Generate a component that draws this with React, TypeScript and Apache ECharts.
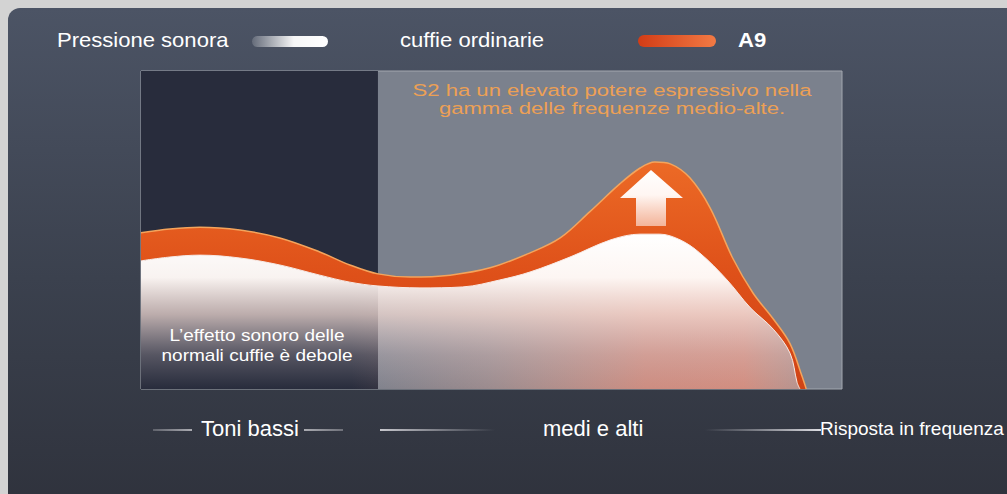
import React, { useEffect, useRef } from "react";
import * as echarts from "echarts";

// Frequency position (0 = bass end, 100 = right edge of plot) and level (0-100)
const a9X = [0, 4.1, 8.4, 14.1, 19.8, 25.5, 29.8, 33.8, 38.4, 44.1, 49.8, 55.5, 59.8, 64.0, 68.3, 71.2, 73.3, 75.5, 78.3, 81.2, 84.4, 87.3, 90.2, 92.6, 94.3, 94.9];
const a9Y = [49.1, 50.3, 50.9, 50.0, 47.5, 43.1, 39.0, 36.2, 35.2, 35.8, 38.1, 42.8, 47.5, 55.7, 64.5, 69.5, 71.4, 70.8, 66.4, 56.9, 41.2, 30.2, 22.0, 14.2, 4.0, 0];
const ordX = [0, 4.1, 8.4, 14.1, 19.8, 25.5, 29.8, 33.8, 39.8, 45.9, 51.2, 55.5, 61.2, 67.0, 71.2, 74.0, 76.9, 79.7, 83.6, 86.9, 90.2, 92.6, 93.6, 94.0];
const ordY = [40.3, 41.5, 42.1, 41.2, 39.0, 35.8, 33.6, 32.4, 31.8, 32.1, 34.3, 36.8, 41.5, 46.9, 48.7, 48.7, 46.9, 42.8, 34.3, 25.6, 18.8, 11.2, 2.0, 0];
const bassRange = [0, 33.8];

const legendLabels = ["Pressione sonora", "cuffie ordinarie", "A9"];
const bottomLabels = ["Toni bassi", "medi e alti", "Risposta in frequenza"];
const noteTop = "S2 ha un elevato potere espressivo nella\ngamma delle frequenze medio-alte.";
const noteBottom = "L\u2019effetto sonoro delle\nnormali cuffie è debole";

const FONT = "'Liberation Sans', Arial, sans-serif";
const DARK = "#282c3c";
const GREY = "#7b818d";

export default function App() {
  const ref = useRef<HTMLDivElement>(null);
  useEffect(() => {
    if (!ref.current) return;
    const chart = echarts.init(ref.current, null, { renderer: "svg" });
    const lg = (stops: [number, string][], x2 = 0, y2 = 1) =>
      new echarts.graphic.LinearGradient(0, 0, x2, y2, stops.map(([offset, color]) => ({ offset, color })));
    // horizontal gradient across the plot width (global pixel coordinates)
    const plotH = (stops: [number, string][]) =>
      new echarts.graphic.LinearGradient(141, 0, 842, 0, stops.map(([offset, color]) => ({ offset, color })), true);

    const hLine = (x1: number, x2: number, stops: [number, string][]) => ({
      type: "rect",
      shape: { x: x1, y: 429, width: x2 - x1, height: 2 },
      style: { fill: lg(stops, 1, 0) },
      z: 50,
    });
    const txt = (left: number, top: number, text: string, font: string, sx = 1) => ({
      type: "text",
      x: left,
      y: top,
      scaleX: sx,
      style: { text, fill: "#ffffff", font },
      z: 50,
    });

    const split = bassRange[1] / 100;
    const maskFill = plotH([
      [0, DARK],
      [split, DARK],
      [split, GREY],
      [1, GREY],
    ]);
    const glowFill = plotH([
      [0, "rgba(230,150,130,0)"],
      [0.3, "rgba(230,150,130,0)"],
      [0.5, "rgba(235,165,145,0.3)"],
      [0.72, "rgba(232,145,125,0.75)"],
      [0.86, "rgba(232,145,125,0.8)"],
      [0.95, "rgba(235,165,145,0.5)"],
    ]);

    const ordData = ordX.map((x, i) => [x, ordY[i]]);
    const shapeSeries = (name: string, z: number, fill: any) => ({
      type: "line",
      name,
      data: ordData,
      smooth: 0.35,
      symbol: "none",
      silent: true,
      z,
      lineStyle: { width: 0 },
      areaStyle: { origin: "start", opacity: 1, color: fill },
    });

    chart.setOption({
      animation: false,
      backgroundColor: "#d3d3d3",
      grid: {
        left: 141,
        top: 71,
        width: 701,
        height: 318,
        show: true,
        backgroundColor: GREY,
        borderColor: "#a3a7af",
        borderWidth: 1,
        z: 1,
      },
      xAxis: { type: "value", min: 0, max: 100, show: false },
      yAxis: { type: "value", min: 0, max: 100, show: false },
      series: [
        {
          type: "line",
          name: legendLabels[2],
          data: a9X.map((x, i) => [x, a9Y[i]]),
          smooth: 0.35,
          symbol: "none",
          z: 3,
          lineStyle: { color: "#f4a45c", width: 1.5 },
          areaStyle: {
            origin: "start",
            opacity: 1,
            color: lg([
              [0, "#ec6a26"],
              [0.5, "#de5019"],
              [1, "#d04416"],
            ]),
          },
          markArea: {
            silent: true,
            itemStyle: { color: DARK, opacity: 1 },
            data: [[{ xAxis: bassRange[0] }, { xAxis: bassRange[1] }]],
          },
        },
        shapeSeries("mask", 4, maskFill),
        shapeSeries("glow", 5, glowFill),
        {
          type: "line",
          name: legendLabels[1],
          data: ordData,
          smooth: 0.35,
          symbol: "none",
          z: 6,
          lineStyle: { color: "#fbe9e2", width: 1 },
          areaStyle: {
            origin: "start",
            opacity: 1,
            color: lg([
              [0, "rgba(255,255,255,1)"],
              [0.28, "rgba(255,249,246,0.97)"],
              [0.52, "rgba(245,222,215,0.72)"],
              [0.78, "rgba(225,210,212,0.25)"],
              [1, "rgba(210,200,205,0)"],
            ]),
          },
        },
      ],
      graphic: [
        {
          type: "rect",
          shape: { x: 8, y: 8, width: 1100, height: 600, r: 12 },
          style: {
            fill: lg([
              [0, "#4c5465"],
              [0.45, "#3b414e"],
              [1, "#2a2c35"],
            ]),
          },
          z: -10,
        },
        // legend
        txt(57, 30, legendLabels[0], `21px ${FONT}`, 1.05),
        {
          type: "rect",
          shape: { x: 252, y: 36, width: 76, height: 11, r: 5.5 },
          style: {
            fill: lg(
              [
                [0, "rgba(255,255,255,0.15)"],
                [0.55, "rgba(255,255,255,0.95)"],
                [1, "#ffffff"],
              ],
              1,
              0
            ),
          },
          z: 50,
        },
        txt(400, 30, legendLabels[1], `21px ${FONT}`, 1.05),
        {
          type: "rect",
          shape: { x: 638, y: 35, width: 78, height: 12, r: 6 },
          style: {
            fill: lg(
              [
                [0, "#d23c16"],
                [1, "#f27a44"],
              ],
              1,
              0
            ),
          },
          z: 50,
        },
        txt(738, 30, legendLabels[2], `bold 21px ${FONT}`, 1.05),
        // notes
        {
          type: "text",
          x: 612,
          y: 81,
          scaleX: 1.3,
          style: {
            text: noteTop,
            fill: "#eda055",
            font: `17px ${FONT}`,
            align: "center",
            lineHeight: 18,
          },
          z: 50,
        },
        {
          type: "text",
          x: 257,
          y: 325,
          scaleX: 1.12,
          style: {
            text: noteBottom,
            fill: "#ffffff",
            font: `17px ${FONT}`,
            align: "center",
            lineHeight: 20,
          },
          z: 50,
        },
        // arrow
        {
          type: "polygon",
          shape: {
            points: [
              [651, 170],
              [620, 198],
              [636, 198],
              [636, 226],
              [666, 226],
              [666, 198],
              [683, 198],
            ],
          },
          style: {
            fill: lg([
              [0, "#ffffff"],
              [0.45, "#fff6f2"],
              [1, "rgba(246,196,176,0.85)"],
            ]),
          },
          z: 50,
        },
        // bottom axis labels
        hLine(153, 192, [
          [0, "rgba(200,200,205,0.3)"],
          [1, "rgba(200,200,205,0.8)"],
        ]),
        txt(201, 417, bottomLabels[0], `22px ${FONT}`),
        hLine(304, 343, [
          [0, "rgba(200,200,205,0.8)"],
          [1, "rgba(200,200,205,0.4)"],
        ]),
        hLine(380, 495, [
          [0, "rgba(215,215,220,0.9)"],
          [1, "rgba(215,215,220,0)"],
        ]),
        txt(543, 417, bottomLabels[1], `22px ${FONT}`),
        hLine(705, 821, [
          [0, "rgba(215,215,220,0)"],
          [1, "rgba(230,230,235,0.95)"],
        ]),
        txt(820, 419, bottomLabels[2], `19px ${FONT}`),
      ],
    });
    return () => chart.dispose();
  }, []);
  return (
    <div
      ref={ref}
      style={{ position: "fixed", left: 0, top: 0, width: 1007, height: 494 }}
    />
  );
}
